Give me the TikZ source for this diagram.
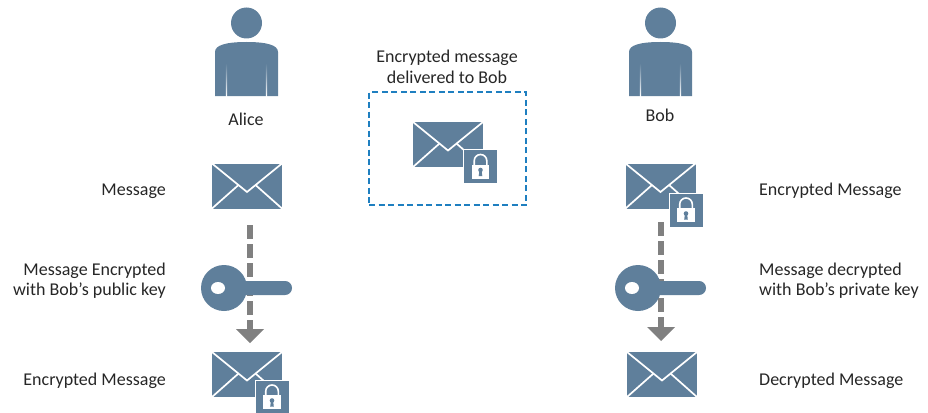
\documentclass[tikz,border=0pt]{standalone}
\usepackage{fontspec}
\setmainfont{Carlito}
\definecolor{slate}{HTML}{5F7F9B}
\definecolor{dashgray}{HTML}{808080}
\definecolor{boxblue}{HTML}{1F7FC0}
\definecolor{txt}{HTML}{262626}
\tikzset{
  lbl/.style={font=\fontsize{18}{20.5}\selectfont,text=txt,align=center,inner sep=0pt},
  lblr/.style={font=\fontsize{18}{20.5}\selectfont,text=txt,align=right,inner sep=0pt,anchor=east},
  lbll/.style={font=\fontsize{18}{20.5}\selectfont,text=txt,align=left,inner sep=0pt,anchor=west},
  flow/.style={draw=dashgray,line width=6pt,dash pattern=on 14pt off 5pt},
  person/.pic={
    \fill[slate] (0,-23) circle (15.5);
    \fill[slate] (-31.5,50) -- (-31.5,6) .. controls (-31.5,-1) and (-20,-4) .. (0,-4)
      .. controls (20,-4) and (31.5,-1) .. (31.5,6) -- (31.5,50) -- cycle;
    \shade[top color=slate,bottom color=white] (-20.6,17) rectangle (-19.4,50);
    \shade[top color=slate,bottom color=white] (19.4,17) rectangle (20.6,50);
  },
  envelope/.pic={
    \fill[slate] (-35,-22.5) rectangle (35,22.5);
    \draw[white,line width=1.7pt] (-35,-22.5) -- (0,6) -- (35,-22.5);
    \draw[white,line width=1.7pt] (-35,22.5) -- (-8.5,-1);
    \draw[white,line width=1.7pt] (35,22.5) -- (8.5,-1);
  },
  padlock/.pic={
    \fill[slate,draw=white,line width=1pt] (-17,-17) rectangle (17,17);
    \draw[white,line width=1.6pt] (-6.3,0) -- (-6.3,-5.7) arc (-180:0:6.3) -- (6.3,0);
    \fill[white] (-8.7,-1.7) rectangle (8.7,12.3);
    \fill[slate] (0,3.5) circle (2.3);
    \fill[slate] (-1,3.5) -- (1,3.5) -- (1.8,9.5) -- (-1.8,9.5) -- cycle;
  },
  keyicon/.pic={
    \fill[slate] (0,0) circle (23);
    \fill[slate,rounded corners=6.9pt] (10,-7) rectangle (68,7);
    \fill[white] (-6,0) ellipse (7 and 6);
  }
}
\begin{document}
\begin{tikzpicture}[x=1pt,y=-1pt]
\useasboundingbox (0,0) rectangle (928,412);
% flows (behind keys)
\coordinate (aStart) at (250,225);
\coordinate (aEnd) at (250,330);
\coordinate (aTip) at (250,343);
\coordinate (bStart) at (661,222);
\coordinate (bEnd) at (661,327);
\coordinate (bTip) at (661,341);
\draw[flow] (aStart) -- (aEnd);
\draw[flow] (bStart) -- (bEnd);
\fill[dashgray] (236,329) -- (264,329) -- (aTip) -- cycle;
\fill[dashgray] (647,327) -- (675,327) -- (bTip) -- cycle;
% Alice column
\pic at (246.5,46) {person};
\node[lbl] (alice) at (246,119) {Alice};
\pic at (247,186) {envelope};
\pic at (224,288) {keyicon};
\pic at (247,374.5) {envelope};
\pic at (272,397) {padlock};
\node[lblr] (m1) at (166,191) {Message};
\node[lblr] (m2) at (166,280.5) {Message Encrypted\\with Bob’s public key};
\node[lblr] (m3) at (166,381) {Encrypted Message};
% centre
\node[lbl] (c) at (447,67) {Encrypted message\\delivered to Bob};
\node[draw=boxblue,line width=1.6pt,dash pattern=on 6pt off 3.5pt,minimum width=157pt,minimum height=113pt,inner sep=0pt] (box) at (447.5,148.5) {};
\pic at (448,144.5) {envelope};
\pic at (480.5,166.5) {padlock};
% Bob column
\pic at (660.5,46) {person};
\node[lbl] (bob) at (660,115.5) {Bob};
\pic at (660.5,186) {envelope};
\pic at (686,210) {padlock};
\pic at (638,288) {keyicon};
\pic at (662,374.5) {envelope};
\node[lbll] (r1) at (759,191) {Encrypted Message};
\node[lbll] (r2) at (759,280.5) {Message decrypted\\with Bob’s private key};
\node[lbll] (r3) at (759,381) {Decrypted Message};
\end{tikzpicture}
\end{document}
